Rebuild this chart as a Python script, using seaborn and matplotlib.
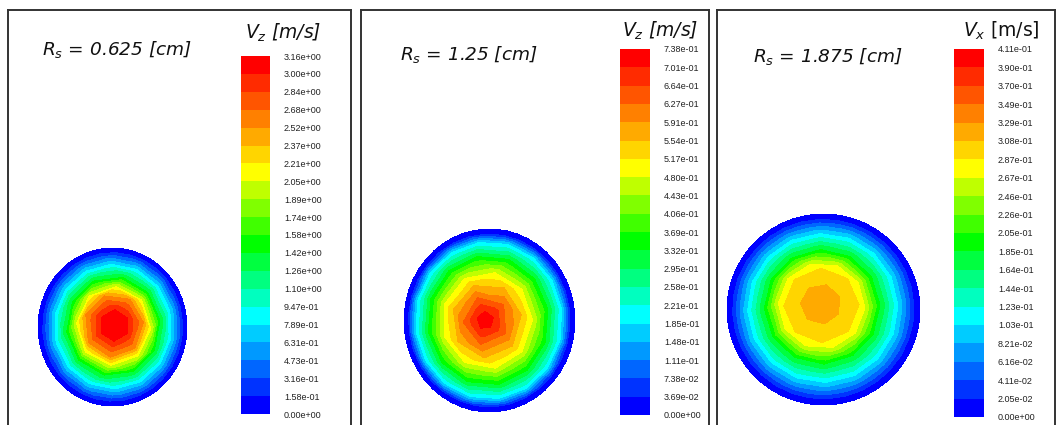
import matplotlib
matplotlib.use("Agg")
import matplotlib.pyplot as plt
import matplotlib.tri as mtri
import numpy as np
import seaborn as sns

# legend tick values, one list per panel (m/s)
ticks_a = [0.0, 0.158, 0.316, 0.473, 0.631, 0.789, 0.947, 1.10, 1.26, 1.42, 1.58,
           1.74, 1.89, 2.05, 2.21, 2.37, 2.52, 2.68, 2.84, 3.00, 3.16]
ticks_b = [0.0, 0.0369, 0.0738, 0.111, 0.148, 0.185, 0.221, 0.258, 0.295, 0.332, 0.369,
           0.406, 0.443, 0.480, 0.517, 0.554, 0.591, 0.627, 0.664, 0.701, 0.738]
ticks_c = [0.0, 0.0205, 0.0411, 0.0616, 0.0821, 0.103, 0.123, 0.144, 0.164, 0.185, 0.205,
           0.226, 0.246, 0.267, 0.287, 0.308, 0.329, 0.349, 0.370, 0.390, 0.411]

# radial velocity profiles (r normalised by pipe radius)
r_a = [0.0, 0.20, 0.40, 0.50, 0.63, 0.79, 0.94, 1.0]
v_a = [3.12, 3.00, 2.52, 2.05, 1.42, 0.789, 0.158, 0.0]
r_b = [0.0, 0.10, 0.27, 0.41, 0.53, 0.71, 0.86, 0.945, 1.0]
v_b = [0.725, 0.701, 0.627, 0.554, 0.480, 0.332, 0.185, 0.0369, 0.0]
r_c = [0.0, 0.21, 0.39, 0.45, 0.60, 0.78, 0.94, 1.0]
v_c = [0.322, 0.308, 0.287, 0.267, 0.185, 0.103, 0.0205, 0.0]

titles = ["0.625", "1.25", "1.875"]
components = ["z", "z", "x"]

# Fluent-like banded rainbow, 20 bands
band_rgb = [(0, 0, 255), (0, 51, 255), (0, 102, 255), (0, 153, 255), (0, 204, 255),
            (0, 255, 255), (0, 255, 191), (0, 255, 128), (0, 255, 64), (0, 255, 0),
            (64, 255, 0), (128, 255, 0), (191, 255, 0), (255, 255, 0), (255, 213, 0),
            (255, 170, 0), (255, 128, 0), (255, 85, 0), (255, 43, 0), (255, 0, 0)]

sns.set_style("white")
plt.rcParams['font.family'] = ['DejaVu Sans']
plt.rcParams['mathtext.fontset'] = 'dejavusans'
band_colors = sns.color_palette([tuple(c / 255 for c in rgb) for rgb in band_rgb])

W, H = 1056, 425
fig = plt.figure(figsize=(W / 100, H / 100), dpi=100)


def px_axes(x0, y0, x1, y1):
    return fig.add_axes([x0 / W, 1 - y1 / H, (x1 - x0) / W, (y1 - y0) / H])


def stitch(ia, ta, ib, tb):
    # join two neighbouring rings of nodes into triangles, walking round by angle
    tris = []
    n1, n2 = len(ia), len(ib)
    p = q = 0
    while p < n1 or q < n2:
        na = ta[(p + 1) % n1] + 2 * np.pi * ((p + 1) // n1)
        nb = tb[(q + 1) % n2] + 2 * np.pi * ((q + 1) // n2)
        if q >= n2 or (p < n1 and na <= nb):
            tris.append([ia[p % n1], ia[(p + 1) % n1], ib[q % n2]])
            p += 1
        else:
            tris.append([ia[p % n1], ib[(q + 1) % n2], ib[q % n2]])
            q += 1
    return tris


def ring_mesh(radii, values, nodes, shift, twist):
    xs, ys, zs, tris = [], [], [], []
    prev = None
    for k, (r, v, n) in enumerate(zip(radii, values, nodes)):
        cx, cy = shift[0] * (1 - r), shift[1] * (1 - r)
        start = len(xs)
        if r == 0:
            xs.append(cx)
            ys.append(cy)
            zs.append(v)
            prev = ([start], None)
            continue
        step = 2 * np.pi / n
        th = np.arange(n) * step + (twist * k) % step
        xs.extend(cx + r * np.cos(th))
        ys.extend(cy + r * np.sin(th))
        zs.extend([v] * n)
        idx = list(range(start, start + n))
        if prev[1] is None:
            c = prev[0][0]
            tris.extend([[c, idx[j], idx[(j + 1) % n]] for j in range(n)])
        else:
            tris.extend(stitch(prev[0], prev[1], idx, th))
        prev = (idx, th)
    return np.array(xs), np.array(ys), np.array(zs), np.array(tris)


panels = [
    dict(frame=(7.5, 10, 351.5, 440), disk=(38, 248, 187, 406), cbar=(241, 56, 270, 414),
         title_xy=(42, 55), label_xy=(245, 39), ticks=ticks_a, r=r_a, v=v_a,
         nodes=[1, 6, 7, 8, 10, 14, 30, 48], shift=(0.03, 0.025), twist=0.5),
    dict(frame=(361, 10, 708.5, 440), disk=(404, 229, 575, 412), cbar=(620, 49, 650, 415),
         title_xy=(400, 60), label_xy=(622, 37), ticks=ticks_b, r=r_b, v=v_b,
         nodes=[1, 5, 5, 7, 9, 12, 16, 30, 48], shift=(-0.055, 0.0), twist=0.35),
    dict(frame=(717, 9.5, 1055, 440), disk=(727, 214, 920, 405), cbar=(954, 49, 984, 417),
         title_xy=(753, 62), label_xy=(963, 37), ticks=ticks_c, r=r_c, v=v_c,
         nodes=[1, 7, 8, 10, 12, 16, 32, 56], shift=(-0.035, 0.07), twist=0.4),
]

for i, p in enumerate(panels):
    frame = px_axes(*p['frame'])
    frame.set_xticks([])
    frame.set_yticks([])
    for s in frame.spines.values():
        s.set_color('#333333')
        s.set_linewidth(1.4)
        s.set_visible(True)

    ax = px_axes(*p['disk'])
    x, y, z, t = ring_mesh(p['r'], p['v'], p['nodes'], p['shift'], p['twist'])
    tri = mtri.Triangulation(x, y, t)
    cs = ax.tricontourf(tri, z, levels=p['ticks'], colors=band_colors)
    ax.set_xlim(-1, 1)
    ax.set_ylim(-1, 1)
    ax.axis('off')

    cax = px_axes(*p['cbar'])
    cb = fig.colorbar(cs, cax=cax, ticks=p['ticks'])
    cb.outline.set_visible(False)
    cax.set_yticklabels([f"{t:.2e}" for t in p['ticks']],
                        family='Liberation Sans', fontsize=6.5, color='#222222')
    cax.tick_params(axis='y', length=0, pad=10)

    tx, ty = p['title_xy']
    fig.text(tx / W, 1 - ty / H, rf"$R_s$ = {titles[i]} [cm]", fontsize=13.3,
             style='italic', va='baseline', ha='left', color='#111111')
    lx, ly = p['label_xy']
    comp = components[i]
    fig.text(lx / W, 1 - ly / H, rf"$V_{comp}$ [m/s]", fontsize=13.5,
             style='normal' if comp == 'x' else 'italic',
             va='baseline', ha='left', color='#111111')

fig.savefig("out.png", dpi=100)
